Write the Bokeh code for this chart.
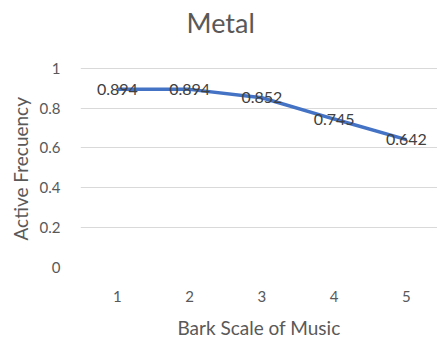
from bokeh.plotting import figure
from bokeh.models import ColumnDataSource, FixedTicker, Label, LabelSet, Range1d, Title
from bokeh.core.properties import value
from bokeh.embed import file_html
from bokeh.resources import INLINE

bark_scale = [1, 2, 3, 4, 5]
active_freq = [0.894, 0.894, 0.852, 0.745, 0.642]
y_ticks = [0, 0.2, 0.4, 0.6, 0.8, 1]
title_text = "Metal"
x_label = "Bark Scale of Music"
y_label = "Active Frecuency"

FONT = "Lato"
GREY = "#595959"

src = ColumnDataSource(dict(x=bark_scale, y=active_freq,
                            lab=[f"{v:.3f}" for v in active_freq]))

# frame extends to the top of the canvas so the title can sit inside it
p = figure(width=437, height=341, output_backend="svg", toolbar_location=None,
           x_range=Range1d(0.49, 5.43), y_range=Range1d(0, 1.34),
           min_border_left=80, min_border_right=0, min_border_top=0, min_border_bottom=69)
p.outline_line_color = None
p.background_fill_color = "white"
p.border_fill_color = "white"

title = Label(x=2.43, y=1.232, text=title_text,
              text_align="center", text_baseline="middle", text_font=FONT,
              text_font_size="27px", text_color=GREY)
p.add_layout(title)

p.line("x", "y", source=src, line_color="#4472C4", line_width=3.5)
labels = LabelSet(x="x", y="y", text="lab", source=src, text_align="center",
                  text_baseline="middle", text_font=value(FONT), text_font_size="16px",
                  text_color="#404040")
p.add_layout(labels)

p.xaxis.ticker = FixedTicker(ticks=bark_scale)
p.yaxis.ticker = FixedTicker(ticks=y_ticks)
p.yaxis.major_label_overrides = {0: "0", 1: "1"}
for ax in (p.xaxis, p.yaxis):
    ax.axis_line_color = None
    ax.major_tick_line_color = None
    ax.minor_tick_line_color = None
    ax.major_label_text_font = FONT
    ax.major_label_text_font_size = "15px"
    ax.major_label_text_color = GREY
    ax.axis_label_text_font = FONT
    ax.axis_label_text_font_size = "19px"
    ax.axis_label_text_color = GREY
    ax.axis_label_text_font_style = "normal"
p.xaxis.axis_label = x_label
p.xaxis.major_label_standoff = 17
p.yaxis.major_label_standoff = 14
p.xaxis.axis_label_standoff = 11

# y-axis title placed on the left, aligned to start above the frame bottom
ytitle = Title(text=y_label, align="left", offset=27, standoff=10, text_font=FONT,
               text_font_size="19px", text_color=GREY, text_font_style="normal")
p.add_layout(ytitle, "left")

p.xgrid.grid_line_color = None
p.ygrid.grid_line_color = "#d9d9d9"
p.ygrid.grid_line_width = 1
p.ygrid.ticker = FixedTicker(ticks=y_ticks)

open("out.html", "w").write(file_html(p, INLINE))
